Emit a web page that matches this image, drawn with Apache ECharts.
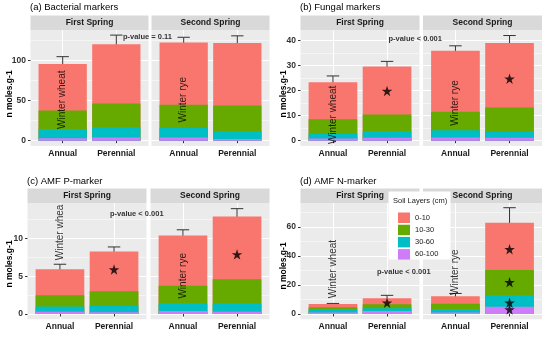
<!DOCTYPE html>
<html><head><meta charset="utf-8">
<script src="https://cdn.jsdelivr.net/npm/echarts@6/dist/echarts.min.js"></script>
<style>html,body{margin:0;padding:0;background:#fff}#c{width:550px;height:341px}</style>
</head><body><div id="c"></div>
<script>
// ---------- data ----------
const categories = ['Annual', 'Perennial'];
const seasons = ['First Spring', 'Second Spring'];
const layers = ['0-10', '10-30', '30-60', '60-100'];
const panelTitles = ['(a) Bacterial markers', '(b) Fungal markers', '(c) AMF P-marker', '(d) AMF N-marker'];
const yTitle = 'n moles.g-1';
const pValueText = ['p-value = 0.11', 'p-value < 0.001', 'p-value < 0.001', 'p-value < 0.001'];

// each row = one soil layer (0-10, 10-30, 30-60, 60-100)
// columns = [First-Annual, First-Perennial, Second-Annual, Second-Perennial]
const bacterial = [[58, 73.7, 77.3, 77.8], [23, 29.3, 29, 31.8], [11.5, 13, 11.7, 10], [3, 4, 4, 2]];
const fungal = [[14.7, 19.2, 24.3, 25.7], [5.8, 6.7, 7.3, 9.6], [1.9, 2.5, 2.9, 2.4], [0.9, 1.2, 1.3, 1.2]];
const amfP = [[3.47, 5.28, 6.66, 8.3], [1.47, 1.9, 2.34, 3.2], [0.7, 0.85, 1.0, 1.1], [0.3, 0.25, 0.4, 0.3]];
const amfN = [[2.3, 4.1, 5.1, 32.6], [1.6, 2.8, 3.7, 17.5], [2.0, 1.9, 2.4, 7.8], [1.0, 2.0, 1.0, 5.1]];

// error (+/-) for the totals
const bacterialErr = [9, 11.3, 6.6, 8.8];
const fungalErr = [2.5, 2, 2, 3];
const amfPErr = [0.65, 0.6, 0.75, 1.05];
const amfNErr = [0.4, 2.1, 2, 10.4];

// stars: [season index, category position, value]
const bacterialStars = [];
const fungalStars = [[0, 2, 19.8], [1, 2, 24.7]];
const amfPStars = [[0, 2, 5.9], [1, 2, 7.9]];
const amfNStars = [[0, 2, 7.8], [1, 2, 44.8], [1, 2, 21.9], [1, 2, 7.8], [1, 2, 3.2]];

// crop labels (vertical) per panel [first, second] and their y values
const cropText = [['Winter wheat', 'Winter rye'], ['Winter wheat', 'Winter rye'], ['Winter whea', 'Winter rye'], ['Winter wheat', 'Winter rye']];
const cropTextY = [[51, 51], [10.3, 15], [10.8, 5.06], [31, 28.9]];
const pValueX = [2.58, 2.52, 2.42, 2.31];
const pValueY = [129, 40.4, 13.2, 28.9];

// y axes
const yMin = [-6.55, -2.1, -0.7, -3.65];
const yMax = [137.65, 44.1, 14.7, 76.65];
const yTicks = [[0, 50, 100], [0, 10, 20, 30, 40], [0, 5, 10], [0, 20, 40, 60]];
const yMinor = [[25, 75, 125], [5, 15, 25, 35], [2.5, 7.5, 12.5], [10, 30, 50, 70]];

// ---------- styling / layout ----------
const FONT = 'Liberation Sans, Arial, Helvetica, sans-serif';
const layerColors = ['#F8766D', '#66AA00', '#00BFC4', '#CF7CF8'];
const layout = [
  {panels: [[30.5, 118], [151.5, 118]], top: 30, height: 116, stripH: 14.5, titleX: 30, titleY: 7, ytX: 9.5, ytY: 94},
  {panels: [[300.5, 119], [423, 119]], top: 30, height: 116, stripH: 14.5, titleX: 300, titleY: 7, ytX: 283.5, ytY: 94},
  {panels: [[27.5, 119], [150.5, 119]], top: 203, height: 116.3, stripH: 14.5, titleX: 27, titleY: 181, ytX: 9.5, ytY: 264},
  {panels: [[300.5, 119], [423, 119]], top: 203, height: 116.3, stripH: 14.5, titleX: 300, titleY: 181, ytX: 283.5, ytY: 266}
];
const markers = [bacterial, fungal, amfP, amfN];
const errs = [bacterialErr, fungalErr, amfPErr, amfNErr];
const stars = [bacterialStars, fungalStars, amfPStars, amfNStars];
const STAR = 'path://M50,0 L61.8,35.1 L98.9,35.1 L68.9,56.7 L80.3,91.6 L50,70 L19.7,91.6 L31.1,56.7 L1.1,35.1 L38.2,35.1 Z';

function errorRender(params, api) {
  const x = api.value(0), lo = api.value(1), hi = api.value(2);
  const a = api.coord([x, hi]), b = api.coord([x, lo]);
  const hw = api.size([0.115, 0])[0];
  const st = {stroke: '#333', lineWidth: 1};
  return {type: 'group', children: [
    {type: 'line', shape: {x1: a[0], y1: a[1], x2: b[0], y2: b[1]}, style: st},
    {type: 'line', shape: {x1: a[0] - hw, y1: a[1], x2: a[0] + hw, y2: a[1]}, style: st},
    {type: 'line', shape: {x1: b[0] - hw, y1: b[1], x2: b[0] + hw, y2: b[1]}, style: st}
  ]};
}

const grid = [], xAxis = [], yAxisMain = [], yAxisMinor = [], series = [], graphic = [];
layout.forEach((L, q) => {
  graphic.push({type: 'text', x: L.titleX, y: L.titleY, z: 5,
    style: {text: panelTitles[q], fontFamily: FONT, fontSize: 9.5, fill: '#000', align: 'left', verticalAlign: 'middle'}});
  graphic.push({type: 'text', x: L.ytX, y: L.ytY, rotation: Math.PI / 2, z: 5,
    style: {text: yTitle, fontFamily: FONT, fontSize: 8.5, fontWeight: 'bold', fill: '#000', align: 'center', verticalAlign: 'middle'}});
  L.panels.forEach((p, s) => {
    const left = p[0], w = p[1];
    const gi = q * 2 + s;
    grid.push({left: left, top: L.top, width: w, height: L.height, show: true, backgroundColor: '#EBEBEB', borderWidth: 0, containLabel: false});
    graphic.push({type: 'rect', shape: {x: left, y: L.top - L.stripH, width: w, height: L.stripH}, style: {fill: '#D9D9D9'}, z: 5, silent: true});
    graphic.push({type: 'text', x: left + w / 2, y: L.top - L.stripH / 2, z: 6,
      style: {text: seasons[s], fontFamily: FONT, fontSize: 8.5, fontWeight: 'bold', fill: '#1a1a1a', align: 'center', verticalAlign: 'middle'}});
    xAxis.push({type: 'value', gridIndex: gi, min: 0.4, max: 2.6,
      axisLine: {show: false},
      axisTick: {show: true, customValues: [1, 2], length: 2.5, lineStyle: {color: '#333', width: 1}},
      axisLabel: {show: true, customValues: [1, 2], formatter: v => categories[Math.round(v) - 1], fontFamily: FONT, fontSize: 8.5, fontWeight: 'bold', color: '#1a1a1a', margin: 3},
      splitLine: {show: true, lineStyle: {color: '#fff', width: 1}}});
    yAxisMain.push({type: 'value', gridIndex: gi, min: yMin[q], max: yMax[q], position: 'left',
      axisLine: {show: false},
      axisTick: {show: s === 0, customValues: yTicks[q], length: 2.5, lineStyle: {color: '#333', width: 1}},
      axisLabel: {show: s === 0, customValues: yTicks[q], fontFamily: FONT, fontSize: 8.5, fontWeight: 'bold', color: '#333', margin: 4.5},
      splitLine: {show: true, lineStyle: {color: '#fff', width: 1}}});
    yAxisMinor.push({type: 'value', gridIndex: gi, min: yMin[q], max: yMax[q], position: 'right',
      axisLine: {show: false}, axisTick: {show: false, customValues: yMinor[q]}, axisLabel: {show: false, customValues: yMinor[q]},
      splitLine: {show: true, lineStyle: {color: '#fff', width: 0.5}}});

    const M = markers[q];
    // bars: cumulative heights, drawn from the top layer down so lower layers overlay
    for (let l = 0; l < 4; l++) {
      const data = [0, 1].map(c => {
        const idx = s * 2 + c;
        let t = 0;
        for (let k = l; k < 4; k++) t += M[k][idx];
        return [c + 1, t];
      });
      series.push({type: 'bar', name: layers[l], xAxisIndex: gi, yAxisIndex: gi, data: data,
        barWidth: '90%', barGap: '-100%', itemStyle: {color: layerColors[l]}, silent: true});
    }
    // error bars
    const ed = [0, 1].map(c => {
      const idx = s * 2 + c;
      let t = 0;
      for (let k = 0; k < 4; k++) t += M[k][idx];
      return [c + 1, t - errs[q][idx], t + errs[q][idx]];
    });
    series.push({type: 'custom', xAxisIndex: gi, yAxisIndex: gi, data: ed, encode: {x: 0, y: [1, 2]}, renderItem: errorRender, silent: true});
    // stars
    const sd = stars[q].filter(r => r[0] === s).map(r => [r[1], r[2]]);
    if (sd.length) series.push({type: 'scatter', xAxisIndex: gi, yAxisIndex: gi, data: sd, symbol: STAR, symbolSize: 10.5, itemStyle: {color: '#000'}, silent: true});
    // crop text
    series.push({type: 'scatter', xAxisIndex: gi, yAxisIndex: gi, data: [[1, cropTextY[q][s]]], symbolSize: 0, silent: true,
      label: {show: true, position: 'inside', formatter: cropText[q][s], rotate: 90, fontFamily: FONT, fontSize: 10, color: '#000'}});
    if (s === 0) {
      series.push({type: 'scatter', xAxisIndex: gi, yAxisIndex: gi, data: [[pValueX[q], pValueY[q]]], symbolSize: 0, silent: true,
        label: {show: true, position: 'inside', formatter: pValueText[q], fontFamily: FONT, fontSize: 7.5, fontWeight: 'bold', color: '#000'}});
    }
  });
});

// legend box
graphic.push({type: 'rect', shape: {x: 388.5, y: 191.5, width: 62, height: 68}, style: {fill: '#fff'}, z: 50, silent: true});
graphic.push({type: 'text', x: 393, y: 201, z: 51,
  style: {text: 'Soil Layers (cm)', fontFamily: FONT, fontSize: 7.5, fill: '#222', align: 'left', verticalAlign: 'middle'}});

// minor axes (indices 8..15) only draw thin split lines
const yAxis = yAxisMain.concat(yAxisMinor);

const chart = echarts.init(document.getElementById('c'), null, {renderer: 'canvas'});
chart.setOption({
  animation: false,
  backgroundColor: '#fff',
  textStyle: {fontFamily: FONT},
  grid: grid,
  xAxis: xAxis,
  yAxis: yAxis,
  legend: {show: true, data: layers.map(n => ({name: n, icon: 'rect'})), orient: 'vertical', left: 393, top: 207.5,
    itemWidth: 12, itemHeight: 10.5, itemGap: 1.7, z: 60, selectedMode: false,
    textStyle: {fontFamily: FONT, fontSize: 7.5, color: '#222'}},
  graphic: graphic,
  series: series
});
</script>
</body></html>
